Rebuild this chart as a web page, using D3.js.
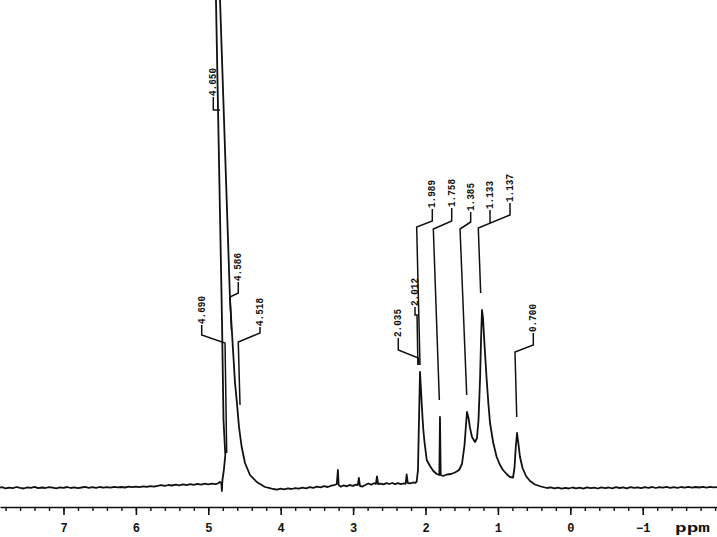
<!DOCTYPE html>
<html>
<head>
<meta charset="utf-8">
<script src="https://cdnjs.cloudflare.com/ajax/libs/d3/7.8.5/d3.min.js"></script>
<style>
  body { margin: 0; background: #fff; }
</style>
</head>
<body>
<div id="chart"></div>
<script>
// axis
const majorTicks = [7, 6, 5, 4, 3, 2, 1, 0, -1];
const unitLabel = 'ppm';

// trace as [ppm, intensity] (intensity in plot units above 0)
const baselineLeft = [
  [7.90, 2.0], [7.85, 2.8], [7.80, 1.6], [7.75, 2.4], [7.70, 1.9], [7.65, 3.0], [7.60, 2.1],
  [7.55, 1.5], [7.50, 2.6], [7.45, 2.2], [7.40, 3.1], [7.35, 1.8], [7.30, 2.5], [7.25, 2.0],
  [7.20, 2.9], [7.15, 2.3], [7.10, 1.7], [7.05, 2.6], [7.00, 2.2], [6.95, 3.0], [6.90, 2.0],
  [6.85, 2.7], [6.80, 1.9], [6.75, 2.5], [6.70, 3.1], [6.65, 2.2], [6.60, 2.8], [6.55, 2.1],
  [6.50, 3.0], [6.45, 2.4], [6.40, 2.9], [6.35, 2.3], [6.30, 3.2], [6.25, 2.6], [6.20, 3.0],
  [6.15, 2.5], [6.10, 3.3], [6.05, 2.8], [6.00, 3.4], [5.95, 2.9], [5.90, 3.6], [5.85, 3.1],
  [5.80, 3.8], [5.75, 3.3], [5.70, 4.2], [5.65, 4.8], [5.60, 4.1], [5.55, 5.0], [5.50, 4.5],
  [5.45, 5.3], [5.40, 4.7], [5.35, 5.6], [5.30, 4.9], [5.25, 5.8], [5.20, 5.2], [5.15, 6.1],
  [5.10, 5.4], [5.05, 6.3], [5.00, 5.6], [4.95, 6.4], [4.90, 5.8]
];
const waterPeak = [
  [4.87, 6.5], [4.84, 8.0], [4.82, 7.0], [4.812, -1.0], [4.805, 10], [4.785, 20], [4.765, 35],
  [4.79, 70], [4.811, 170], [4.894, 490], [4.88, 650], [4.838, 490], [4.70, 190], [4.631, 107],
  [4.608, 90], [4.576, 63], [4.539, 43], [4.493, 27], [4.424, 15], [4.331, 8], [4.217, 3],
  [4.15, 1.8], [4.106, 1.0]
];
const baselineMid = [
  [4.05, 0.4], [4.00, 1.3], [3.95, 0.6], [3.90, 1.6], [3.85, 1.0], [3.80, 1.9], [3.75, 1.4],
  [3.70, 2.4], [3.65, 1.7], [3.60, 2.8], [3.55, 2.2], [3.50, 3.3], [3.45, 2.6], [3.40, 3.8],
  [3.35, 3.0], [3.30, 4.4], [3.25, 5.2], [3.225, 6], [3.21, 20], [3.20, 5], [3.17, 3.3],
  [3.13, 4.6], [3.09, 3.6], [3.05, 5.0], [3.00, 4.2], [2.96, 5.4], [2.935, 5], [2.92, 12],
  [2.905, 4], [2.87, 3.5], [2.83, 5.0], [2.79, 6.5], [2.75, 5.4], [2.71, 6.8], [2.685, 6],
  [2.67, 13.5], [2.655, 6], [2.62, 6.4], [2.58, 5.6], [2.54, 6.9], [2.50, 6.0], [2.46, 7.0],
  [2.42, 5.8], [2.38, 6.8], [2.34, 5.9], [2.30, 6.6], [2.275, 6.2], [2.26, 15.5], [2.245, 7],
  [2.21, 6.6], [2.17, 7.5], [2.14, 7.2], [2.122, 8.3]
];
const aliphatic = [
  [2.104, 20], [2.090, 70], [2.076, 118], [2.062, 100], [2.055, 90], [2.041, 72], [2.030, 60],
  [2.014, 48], [1.983, 30], [1.938, 24], [1.892, 19], [1.845, 16], [1.809, 15], [1.800, 73],
  [1.790, 15], [1.758, 14], [1.703, 15.5], [1.648, 16], [1.593, 17.5], [1.537, 20], [1.496, 26],
  [1.461, 45], [1.441, 65], [1.427, 78], [1.406, 72], [1.385, 62], [1.358, 53], [1.316, 48],
  [1.289, 52], [1.268, 70], [1.247, 110], [1.233, 150], [1.220, 180], [1.206, 172], [1.185, 145],
  [1.155, 110], [1.130, 85], [1.109, 67], [1.064, 47], [1.017, 33], [0.971, 25], [0.930, 20],
  [0.874, 15.5], [0.833, 13], [0.791, 12.5], [0.771, 22], [0.754, 42], [0.736, 57], [0.718, 47],
  [0.695, 33], [0.660, 22], [0.612, 14], [0.557, 9], [0.488, 5.5], [0.405, 3.5], [0.322, 2]
];
const baselineRight = [
  [0.27, 2.6], [0.22, 1.6], [0.17, 2.4], [0.12, 1.3], [0.07, 2.2], [0.02, 1.5], [-0.03, 2.5],
  [-0.08, 1.7], [-0.13, 2.3], [-0.18, 1.4], [-0.23, 2.6], [-0.28, 1.8], [-0.33, 2.4], [-0.38, 1.5],
  [-0.43, 2.7], [-0.48, 1.9], [-0.53, 2.5], [-0.58, 1.6], [-0.63, 2.8], [-0.68, 2.0], [-0.73, 2.6],
  [-0.78, 1.7], [-0.83, 2.9], [-0.88, 2.1], [-0.93, 2.7], [-0.98, 1.9], [-1.03, 2.8], [-1.08, 2.2],
  [-1.13, 3.0], [-1.18, 2.0], [-1.23, 2.9], [-1.28, 2.3], [-1.33, 3.1], [-1.38, 2.2], [-1.43, 2.8],
  [-1.48, 2.1], [-1.53, 3.0], [-1.58, 2.4], [-1.63, 3.2], [-1.68, 2.3], [-1.73, 3.0], [-1.78, 2.5],
  [-1.83, 3.2], [-1.88, 2.4], [-1.93, 3.1], [-1.98, 2.6], [-2.03, 3.0]
];

// peak picks: text position (ppm, level) and leader tip (ppm, level)
const peakLabels = ['4.690', '4.650', '4.586', '4.518', '2.035', '2.012', '1.989', '1.758', '1.385', '1.133', '1.137', '0.700'];
const labelAt   = [[5.091, 165], [4.931, 393], [4.586, 208], [4.286, 163], [2.376, 152], [2.145, 183], [1.906, 281], [1.638, 282], [1.376, 278], [1.109, 280], [0.833, 287], [0.511, 157]];
const elbowLvl  = [155, 380, 197, 157, 140, 175, 269, 269, 268, 267, 275, 145];
const tipTop    = [[4.769, 147], [4.838, 380], [4.700, 193], [4.586, 148], [2.099, 132], [2.117, 175], [2.122, 263], [1.892, 261], [1.523, 261], [1.109, 267], [1.271, 262], [0.764, 138]];
const tipBottom = [[4.746, 37], [4.838, 380], [4.680, 160], [4.562, 85], [2.090, 125], [2.105, 125], [2.076, 125], [1.809, 90], [1.431, 95], [1.109, 267], [1.238, 197], [0.740, 73]];

const spectrum = [...baselineLeft, ...waterPeak, ...baselineMid, ...aliphatic, ...baselineRight];

const width = 717, height = 537;
const axisY = 507;
const ink = '#111';
const mono = 'Liberation Mono, DejaVu Sans Mono, monospace';

const x = d3.scaleLinear().domain([7.877, -2.026]).range([0, width]);
const y = d3.scaleLinear().domain([0, 490]).range([490, 0]);

const svg = d3.select('#chart').append('svg')
  .attr('width', width)
  .attr('height', height);

// spectrum trace
const line = d3.line().x(d => x(d[0])).y(d => y(d[1]));
svg.append('path')
  .datum(spectrum)
  .attr('fill', 'none')
  .attr('stroke', ink)
  .attr('stroke-width', 1.8)
  .attr('stroke-linejoin', 'round')
  .attr('d', line);

// peak pick leaders
const leaders = peakLabels.map((t, i) => [
  [labelAt[i][0], labelAt[i][1]],
  [labelAt[i][0], elbowLvl[i]],
  tipTop[i],
  tipBottom[i]
]);
svg.append('g')
  .selectAll('path')
  .data(leaders)
  .join('path')
  .attr('fill', 'none')
  .attr('stroke', ink)
  .attr('stroke-width', 1.5)
  .attr('d', line);

svg.append('g')
  .selectAll('text')
  .data(peakLabels)
  .join('text')
  .attr('transform', (d, i) => `translate(${x(labelAt[i][0])},${y(labelAt[i][1]) - 1}) rotate(-90)`)
  .attr('dominant-baseline', 'central')
  .attr('text-anchor', 'start')
  .attr('font-family', mono)
  .attr('font-weight', 'bold')
  .attr('font-size', 11)
  .attr('textLength', 28)
  .attr('lengthAdjust', 'spacingAndGlyphs')
  .attr('fill', ink)
  .text(d => d);

// ppm axis
const minorTicks = d3.range(-20, 79, 2).map(d => d / 10);
const gMinor = svg.append('g')
  .attr('transform', `translate(0,${axisY})`)
  .call(d3.axisBottom(x).tickValues(minorTicks).tickSize(4).tickSizeOuter(0).tickFormat(''));
gMinor.select('.domain').attr('stroke', ink).attr('stroke-width', 1.6);
gMinor.selectAll('.tick line').attr('stroke', ink).attr('stroke-width', 1.4);

const gMajor = svg.append('g')
  .attr('transform', `translate(0,${axisY})`)
  .call(d3.axisBottom(x).tickValues(majorTicks).tickSize(8).tickSizeOuter(0));
gMajor.select('.domain').remove();
gMajor.selectAll('.tick line').attr('stroke', ink).attr('stroke-width', 1.6);
gMajor.selectAll('.tick text')
  .attr('y', 16)
  .attr('fill', ink)
  .attr('font-family', mono)
  .attr('font-weight', 'bold')
  .attr('font-size', 12);

svg.append('text')
  .attr('x', 675)
  .attr('y', axisY + 25)
  .attr('fill', ink)
  .attr('font-family', mono)
  .attr('font-weight', 'bold')
  .attr('font-size', 13)
  .attr('textLength', 35)
  .attr('lengthAdjust', 'spacingAndGlyphs')
  .text(unitLabel);
</script>
</body>
</html>
